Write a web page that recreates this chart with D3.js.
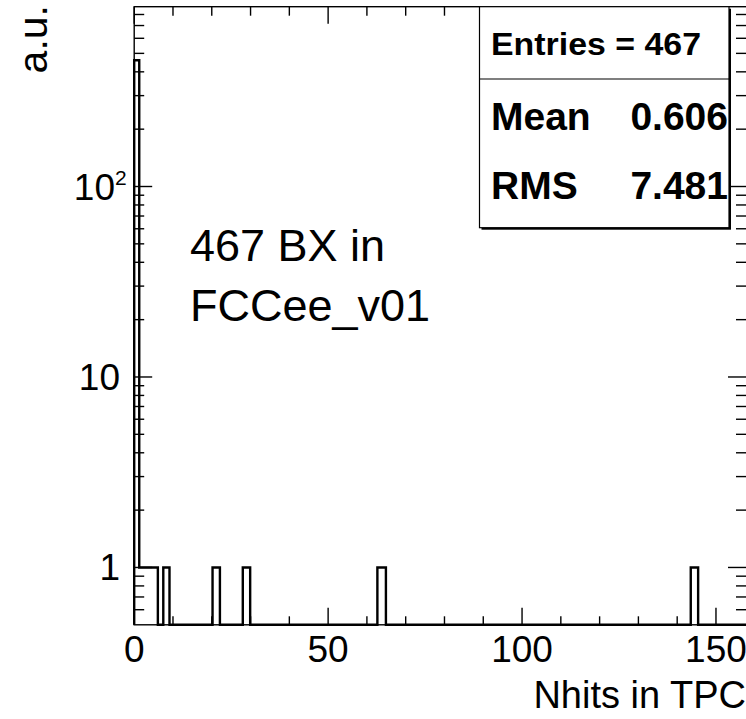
<!DOCTYPE html>
<html>
<head>
<meta charset="utf-8">
<script src="https://cdn.jsdelivr.net/npm/d3@7"></script>
<style>
  html, body { margin: 0; padding: 0; background: #fff; }
  svg { display: block; font-family: "Liberation Sans", Arial, Helvetica, sans-serif; }
</style>
</head>
<body>
<svg id="chart" width="746" height="719"></svg>
<script>
// ---- data ----
const binEdges  = [0, 1.3, 6.1, 7.5, 9.1, 20.2, 22.1, 28.0, 29.9, 62.7, 64.9, 143.5, 145.4, 158];
const binCounts = [460, 1, 0, 1, 0, 1, 0, 1, 0, 1, 0, 1, 0];
const xMajorTicks = [0, 50, 100, 150];
const xMinorTicks = d3.range(0, 158, 10);
const yMajorTicks = [1, 10, 100];
const yMajorLabels = ["1", "10", "10|2"];
const yDomain = [0.5, 879];
const xDomain = [0, 158];
const statLabels = ["Mean", "RMS"];
const statValues = ["0.606", "7.481"];
const entriesText = "Entries = 467";
const noteLines = ["467 BX in", "FCCee_v01"];
const xTitle = "Nhits in TPC";
const yTitle = "a.u.";

// ---- layout ----
const L = 134.2, R = 747, T = 6.7, B = 624.8;
const svg = d3.select("#chart");

const x = d3.scaleLinear().domain(xDomain).range([L, R]);
const y = d3.scaleLog().domain(yDomain).range([B, T]).clamp(true);

const yMinor = [];
for (let e = -1; e <= 2; e++) {
  for (let m = 2; m <= 9; m++) {
    const v = m * Math.pow(10, e);
    if (v > yDomain[0] && v < yDomain[1]) yMinor.push(v);
  }
}

// ---- histogram outline ----
let pts = [[x(binEdges[0]), y(yDomain[0])]];
binCounts.forEach((c, i) => {
  const yy = c > 0 ? y(c) : y(yDomain[0]);
  pts.push([x(binEdges[i]), yy]);
  pts.push([x(binEdges[i + 1]), yy]);
});
pts.push([x(binEdges[binEdges.length - 1]), y(yDomain[0])]);
svg.append("path")
  .attr("d", d3.line()(pts))
  .attr("fill", "none")
  .attr("stroke", "#000")
  .attr("stroke-width", 2.4)
  .attr("stroke-linejoin", "miter");

// ---- frame ----
svg.append("rect")
  .attr("x", L).attr("y", T).attr("width", R - L).attr("height", B - T)
  .attr("fill", "none").attr("stroke", "#000").attr("stroke-width", 1.4);

const tickG = svg.append("g").attr("stroke", "#000").attr("stroke-width", 1.4);
xMajorTicks.forEach(v => {
  tickG.append("line").attr("x1", x(v)).attr("x2", x(v)).attr("y1", B).attr("y2", B - 17);
  tickG.append("line").attr("x1", x(v)).attr("x2", x(v)).attr("y1", T).attr("y2", T + 17);
});
xMinorTicks.filter(v => !xMajorTicks.includes(v)).forEach(v => {
  tickG.append("line").attr("x1", x(v)).attr("x2", x(v)).attr("y1", B).attr("y2", B - 8.5);
  tickG.append("line").attr("x1", x(v)).attr("x2", x(v)).attr("y1", T).attr("y2", T + 9);
});
yMajorTicks.forEach(v => {
  tickG.append("line").attr("x1", L).attr("x2", L + 18).attr("y1", y(v)).attr("y2", y(v));
  tickG.append("line").attr("x1", R - 1).attr("x2", R - 19).attr("y1", y(v)).attr("y2", y(v));
});
yMinor.forEach(v => {
  tickG.append("line").attr("x1", L).attr("x2", L + 10).attr("y1", y(v)).attr("y2", y(v));
  tickG.append("line").attr("x1", R - 1).attr("x2", R - 11).attr("y1", y(v)).attr("y2", y(v));
});

// ---- tick labels ----
const fsTick = 37;
xMajorTicks.forEach(v => {
  svg.append("text").attr("x", x(v)).attr("y", B + 37)
    .attr("text-anchor", "middle").attr("font-size", fsTick).text(String(v));
});
yMajorTicks.forEach((v, i) => {
  const lab = yMajorLabels[i];
  if (lab.includes("|")) {
    const [base, sup] = lab.split("|");
    svg.append("text").attr("x", 115).attr("y", y(v) + 13)
      .attr("text-anchor", "end").attr("font-size", fsTick).text(base);
    svg.append("text").attr("x", 115).attr("y", y(v) - 2)
      .attr("text-anchor", "start").attr("font-size", 21).text(sup);
  } else {
    svg.append("text").attr("x", 120).attr("y", y(v) + 13)
      .attr("text-anchor", "end").attr("font-size", fsTick).text(lab);
  }
});

// ---- axis titles ----
svg.append("text").attr("x", 746).attr("y", 708)
  .attr("text-anchor", "end").attr("font-size", 38).text(xTitle);
svg.append("text")
  .attr("transform", "translate(47,5) rotate(-90)")
  .attr("text-anchor", "end").attr("font-size", 41).text(yTitle);

// ---- stat box ----
const bx = 479.5, by = T, bw = 249.5, bh = 221;
svg.append("rect").attr("x", bx + 2).attr("y", by + 2).attr("width", bw).attr("height", bh)
  .attr("fill", "#000");
svg.append("rect").attr("x", bx).attr("y", by).attr("width", bw).attr("height", bh)
  .attr("fill", "#fff").attr("stroke", "#000").attr("stroke-width", 1.2);
svg.append("line").attr("x1", bx).attr("x2", bx + bw).attr("y1", 79).attr("y2", 79)
  .attr("stroke", "#000").attr("stroke-width", 1.2);
svg.append("text").attr("x", 491).attr("y", 55).attr("font-size", 32)
  .attr("font-weight", "bold").attr("textLength", 210)
  .attr("lengthAdjust", "spacingAndGlyphs").text(entriesText);
statLabels.forEach((lab, i) => {
  const yy = [130, 199][i];
  svg.append("text").attr("x", 491).attr("y", yy).attr("font-size", 39)
    .attr("font-weight", "bold").text(lab);
  svg.append("text").attr("x", 728).attr("y", yy).attr("font-size", 39)
    .attr("font-weight", "bold").attr("text-anchor", "end").text(statValues[i]);
});

// ---- note text ----
noteLines.forEach((s, i) => {
  svg.append("text").attr("x", 190).attr("y", [261, 321][i])
    .attr("font-size", 45).text(s);
});
</script>
</body>
</html>
